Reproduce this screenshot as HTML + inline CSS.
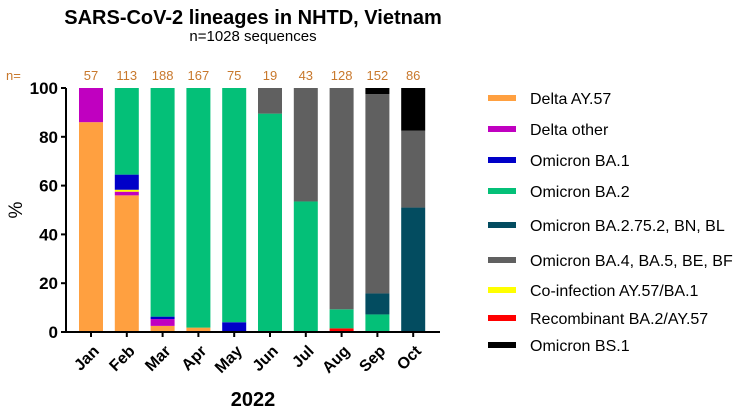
<!DOCTYPE html>
<html><head><meta charset="utf-8"><style>
body{margin:0;background:#fff;}
svg text{font-family:"Liberation Sans",Arial,sans-serif;}
</style></head><body>
<svg width="749" height="415" viewBox="0 0 749 415">
<text x="253" y="24" text-anchor="middle" font-size="20" font-weight="bold">SARS-CoV-2 lineages in NHTD, Vietnam</text>
<text x="253" y="41" text-anchor="middle" font-size="15">n=1028 sequences</text>
<text x="6" y="80" font-size="13" fill="#c8782c">n=</text>
<text transform="translate(22,210) rotate(-90)" text-anchor="middle" font-size="19">%</text>
<text x="253" y="406" text-anchor="middle" font-size="20" font-weight="bold">2022</text>
<g id="plot"></g>
<g id="legend"></g>
</svg>
<script>
const categories=["Jan","Feb","Mar","Apr","May","Jun","Jul","Aug","Sep","Oct"];
const counts=[57,113,188,167,75,19,43,128,152,86];
const seriesNames=["Delta AY.57","Recombinant BA.2/AY.57","Delta other","Co-infection AY.57/BA.1","Omicron BA.1","Omicron BA.2","Omicron BA.2.75.2, BN, BL","Omicron BA.4, BA.5, BE, BF","Omicron BS.1"];
const ay57=[86,56,2.5,1.8,0,0,0,0,0,0];
const recomb=[0,0,0,0,0,0,0,1.5,0,0];
const deltaOther=[14,1.5,2.8,0,0,0,0,0,0,0];
const coinf=[0,0.8,0,0,0,0,0,0,0,0];
const ba1=[0,6.2,1,0,4,0,0,0,0,0];
const ba2=[0,35.5,93.7,98.2,96,89.5,53.5,7.8,7.2,0];
const ba275=[0,0,0,0,0,0,0,0,8.6,51];
const ba45=[0,0,0,0,0,10.5,46.5,90.7,81.7,31.5];
const bs1=[0,0,0,0,0,0,0,0,2.5,17.5];
const yTicks=[0,20,40,60,80,100];
const legendOrder=["Delta AY.57","Delta other","Omicron BA.1","Omicron BA.2","Omicron BA.2.75.2, BN, BL","Omicron BA.4, BA.5, BE, BF","Co-infection AY.57/BA.1","Recombinant BA.2/AY.57","Omicron BS.1"];
const series=[ay57,recomb,deltaOther,coinf,ba1,ba2,ba275,ba45,bs1];
const colors=["#ffa040","#ff0000","#c000c0","#ffff00","#0000c8","#04c078","#034c60","#606060","#000000"];
const ns="http://www.w3.org/2000/svg";
const plot=document.getElementById('plot'),leg=document.getElementById('legend');
const x0=66,x1=440,yTop=88,yBot=332,step=35.8,bw=24;
const xc=i=>91+i*step;
const y=v=>yBot-(v/100)*(yBot-yTop);
function mk(t,a,p){const e=document.createElementNS(ns,t);for(const k in a)e.setAttribute(k,a[k]);p.appendChild(e);return e;}
categories.forEach((c,i)=>{
 let cum=0;
 series.forEach((s,j)=>{const v=s[i];if(v<=0)return;
  const r=mk('rect',{x:xc(i)-bw/2,y:y(cum+v),width:bw,height:y(cum)-y(cum+v),fill:colors[j]},plot);
  
  
  cum+=v;});
 const t=mk('text',{x:xc(i),y:80,'text-anchor':'middle','font-size':13,fill:'#c8782c'},plot);t.textContent=counts[i];
 
 
 mk('line',{x1:xc(i),x2:xc(i),y1:yBot,y2:yBot+5,stroke:'#000','stroke-width':2},plot);
 const xl=mk('text',{transform:`translate(${xc(i)+9},${yBot+20}) rotate(-45)`,'text-anchor':'end','font-size':16,'font-weight':'bold'},plot);xl.textContent=c;
 
 
});
yTicks.forEach(v=>{
 mk('line',{x1:x0-5,x2:x0,y1:y(v),y2:y(v),stroke:'#000','stroke-width':2},plot);
 const t=mk('text',{x:x0-8,y:y(v)+6,'text-anchor':'end','font-size':17,'font-weight':'bold'},plot);t.textContent=v;
 
 
});
const ya=mk('line',{x1:x0,x2:x0,y1:yTop,y2:yBot+1,stroke:'#000','stroke-width':2},plot);


const xa=mk('line',{x1:x0-1,x2:x1,y1:yBot,y2:yBot,stroke:'#000','stroke-width':2},plot);


const ly=[98,129,160,191,225,260,290,318,345];
legendOrder.forEach((n,k)=>{
 const j=seriesNames.indexOf(n);
 const g=mk('g',{},leg);
 
 
 mk('rect',{x:488,y:ly[k]-3,width:28,height:6,fill:colors[j]},g);
 const t=mk('text',{x:530,y:ly[k]+6,'font-size':16},g);t.textContent=n;
});
</script>
</body></html>
